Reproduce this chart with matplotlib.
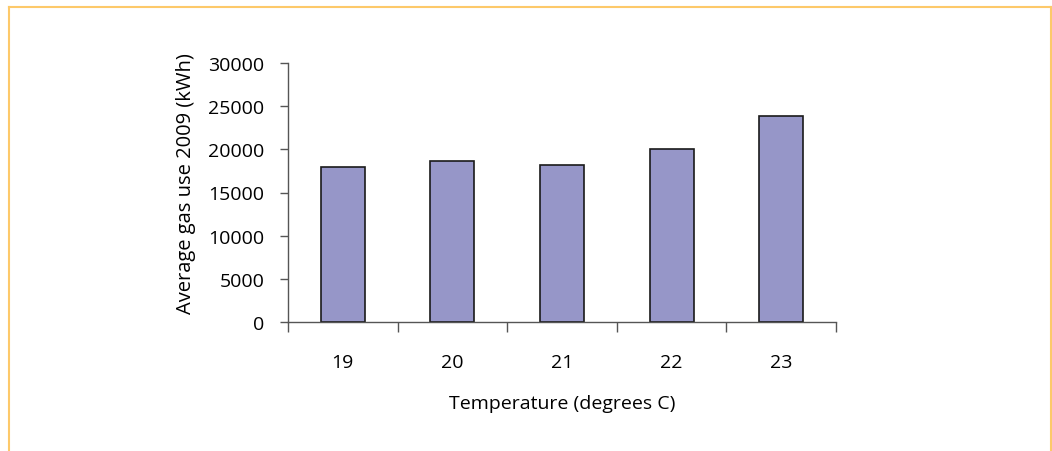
import matplotlib
matplotlib.use('Agg')
import matplotlib.pyplot as plt
from matplotlib.lines import Line2D

# valores
temperatures = ['19', '20', '21', '22', '23']
gas_use = [17950, 18600, 18200, 20000, 23900]
y_ticks = [0, 5000, 10000, 15000, 20000, 25000, 30000]

plt.rcParams['font.family'] = ['Open Sans', 'DejaVu Sans']

fig = plt.figure(figsize=(10.52, 4.52), dpi=100)
ax = fig.add_axes([288 / 1052, 1 - 323 / 452, (836 - 288) / 1052, (323 - 64) / 452])

x = list(range(len(temperatures)))
ax.bar(x, gas_use, width=0.4, color='#9696C8', edgecolor='#1a1a1a', linewidth=1.2)

ax.set_xlim(-0.5, len(temperatures) - 0.5)
ax.set_ylim(0, 30000)
ax.set_yticks(y_ticks)
ax.set_yticklabels([str(v) for v in y_ticks])

# ticks do eixo x nas divisas entre categorias, rótulos no centro
ax.set_xticks([i - 0.5 for i in range(len(temperatures) + 1)])
ax.set_xticklabels([])
ax.set_xticks(x, minor=True)
ax.set_xticklabels(temperatures, minor=True)
ax.tick_params(axis='x', which='major', length=7, color='#555555', width=1)
ax.tick_params(axis='x', which='minor', length=0, pad=22, labelsize=14)
ax.tick_params(axis='y', length=6, color='#555555', width=1, pad=11, labelsize=14)

for side in ['top', 'right']:
    ax.spines[side].set_visible(False)
for side in ['left', 'bottom']:
    ax.spines[side].set_color('#555555')
    ax.spines[side].set_linewidth(1)

ax.set_xlabel('Temperature (degrees C)', fontsize=14, labelpad=17)
ax.set_ylabel('Average gas use 2009 (kWh)', fontsize=14.5, labelpad=9)
ax.yaxis.label.set_y(0.54)

# moldura laranja (sem a borda de baixo)
border = '#FDC96A'
W, H = 1052, 452
fig.add_artist(Line2D([9 / W, 1051 / W], [1 - 8 / H, 1 - 8 / H], color=border, lw=1.5))
fig.add_artist(Line2D([9 / W, 9 / W], [0, 1 - 8 / H], color=border, lw=1.5))
fig.add_artist(Line2D([1051 / W, 1051 / W], [0, 1 - 8 / H], color=border, lw=1.5))

fig.savefig('out.png', dpi=100)
